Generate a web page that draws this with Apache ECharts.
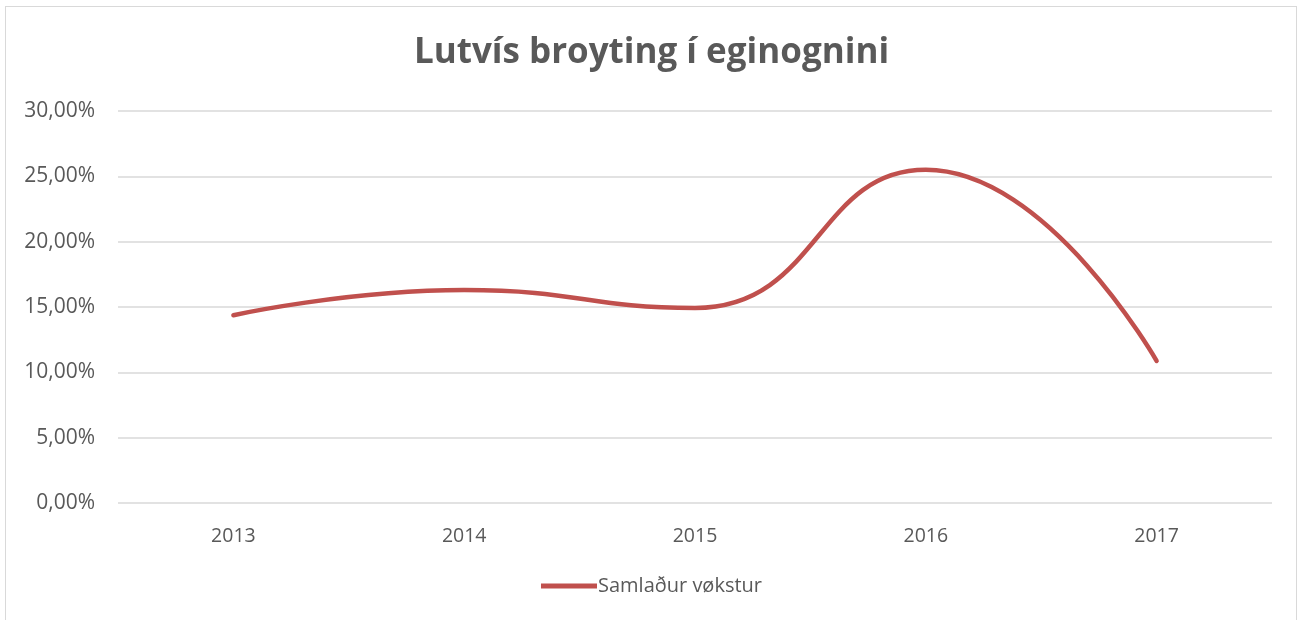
<!DOCTYPE html>
<html>
<head>
<meta charset="utf-8">
<title>Lutvís broyting í eginognini</title>
<script src="https://cdn.jsdelivr.net/npm/echarts@6/dist/echarts.min.js"></script>
<style>
html, body { margin: 0; padding: 0; background: #fff; }
#frame { position: absolute; left: 5px; top: 6px; width: 1292px; height: 620px; border: 1px solid #d9d9d9; box-sizing: border-box; }
#chart { position: absolute; left: 0; top: 0; width: 1303px; height: 620px; }
</style>
</head>
<body>
<div id="frame"></div>
<div id="chart"></div>
<script>
// 数据
var years = ['2013', '2014', '2015', '2016', '2017'];
var growth = [14.37, 16.3, 14.93, 25.5, 10.87];
var yTicks = [0, 5, 10, 15, 20, 25, 30];

var myChart = echarts.init(document.getElementById('chart'));

var option = {
	title : {
		text : 'Lutvís broyting í eginognini',
		left : 'center',
		top : 31,
		textStyle : {
			fontFamily : 'Open Sans',
			fontSize : 35,
			fontWeight : 'bold',
			color : '#595959'
		}
	},
	grid : {
		left : 118,
		right : 31,
		top : 111,
		bottom : 117
	},
	legend : {
		bottom : 19,
		left : 'center',
		icon : 'path://M0,0 L56,0 L56,5 L0,5 Z',
		itemWidth : 56,
		itemHeight : 5,
		itemGap : 4,
		textStyle : { fontFamily : 'Open Sans', fontSize : 20, color : '#595959', padding : [0, 0, 0, -4] },
		data : ['Samlaður vøkstur']
	},
	xAxis : {
		type : 'category',
		data : years,
		boundaryGap : true,
		axisLine : { show : false },
		axisTick : { show : false },
		axisLabel : { margin : 23, fontFamily : 'Open Sans', fontSize : 19.5, color : '#595959' }
	},
	yAxis : {
		type : 'value',
		min : yTicks[0],
		max : yTicks[yTicks.length - 1],
		interval : 5,
		axisLine : { show : false },
		axisTick : { show : false },
		splitLine : { lineStyle : { color : '#d9d9d9', width : 1.5 } },
		axisLabel : {
			margin : 23,
			fontFamily : 'Open Sans',
			fontSize : 21,
			color : '#595959',
			formatter : function(v) { return v.toFixed(2).replace('.', ',') + '%'; }
		}
	},
	series : [{
		name : 'Samlaður vøkstur',
		type : 'line',
		data : growth,
		smooth : 0.5,
		symbol : 'none',
		lineStyle : { color : '#c0504d', width : 4.5, cap : 'round' },
		itemStyle : { color : '#c0504d' }
	}]
};

myChart.setOption(option);
</script>
</body>
</html>
